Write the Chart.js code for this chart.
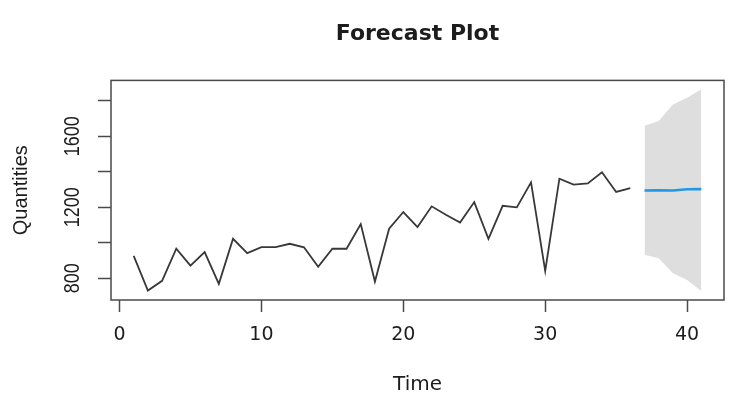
<!DOCTYPE html>
<html>
<head>
<meta charset="utf-8">
<title>Forecast Plot</title>
<script src="https://cdn.jsdelivr.net/npm/chart.js@4/dist/chart.umd.min.js"></script>
<style>
  html, body { margin: 0; padding: 0; background: #ffffff; }
  #wrap { width: 750px; height: 412px; }
</style>
</head>
<body>
<div id="wrap"><canvas id="chart" width="750" height="412"></canvas></div>
<script>
// Observed series
const time = [1, 2, 3, 4, 5, 6, 7, 8, 9, 10, 11, 12, 13, 14, 15, 16, 17, 18,
              19, 20, 21, 22, 23, 24, 25, 26, 27, 28, 29, 30, 31, 32, 33, 34, 35, 36];
const quantities = [926, 730, 785, 966, 871, 947, 768, 1022, 941, 975, 975, 994,
                    974, 864, 966, 966, 1105, 781, 1079, 1173, 1088, 1205, 1158, 1114,
                    1229, 1022, 1208, 1199, 1340, 841, 1361, 1327, 1334, 1397, 1286, 1308];

// Forecast horizon: point forecast and interval bounds
const fcTime  = [37, 38, 39, 40, 41];
const fcMean  = [1294, 1295, 1294, 1301, 1302];
const fcUpper = [1660, 1686, 1779, 1817, 1865];
const fcLower = [932, 913, 828, 790, 728];

// Axis ticks
const xTicks = [0, 10, 20, 30, 40];
const yTicks = [800, 1000, 1200, 1400, 1600, 1800];
const yTickLabels = [800, 1200, 1600];

const pts = (xs, ys) => xs.map((x, i) => ({ x: x, y: ys[i] }));

const axisColor = '#4a4a4a';
const textColor = '#1c1c1c';

// Full box around the plotting region
const boxPlugin = {
  id: 'box',
  afterDatasetsDraw(chart) {
    const { ctx, chartArea: a } = chart;
    ctx.save();
    ctx.strokeStyle = axisColor;
    ctx.lineWidth = 1.5;
    ctx.strokeRect(a.left, a.top, a.right - a.left, a.bottom - a.top);
    ctx.restore();
  }
};

// Y tick labels, written parallel to the axis
const yLabelPlugin = {
  id: 'yLabels',
  afterDraw(chart) {
    const { ctx } = chart;
    const ys = chart.scales.y;
    ctx.save();
    ctx.fillStyle = textColor;
    ctx.font = '18px "Liberation Sans", Arial, sans-serif';
    ctx.textAlign = 'center';
    ctx.textBaseline = 'middle';
    yTickLabels.forEach(v => {
      const py = ys.getPixelForValue(v);
      ctx.save();
      ctx.translate(73, py);
      ctx.scale(1.2, 1);
      ctx.rotate(-Math.PI / 2);
      ctx.fillText(String(v), 0, 0);
      ctx.restore();
    });
    ctx.restore();
  }
};

new Chart(document.getElementById('chart'), {
  type: 'line',
  data: {
    datasets: [
      {
        label: 'upper',
        data: pts(fcTime, fcUpper),
        borderWidth: 0,
        borderColor: 'rgba(0,0,0,0)',
        backgroundColor: '#dedede',
        pointRadius: 0,
        fill: '+1',
        order: 3
      },
      {
        label: 'lower',
        data: pts(fcTime, fcLower),
        borderWidth: 0,
        borderColor: 'rgba(0,0,0,0)',
        pointRadius: 0,
        fill: false,
        order: 3
      },
      {
        label: 'Quantities',
        data: pts(time, quantities),
        borderColor: '#383838',
        borderWidth: 1.8,
        pointRadius: 0,
        tension: 0,
        fill: false,
        order: 2
      },
      {
        label: 'Forecast',
        data: pts(fcTime, fcMean),
        borderColor: '#2297E6',
        borderWidth: 2.6,
        pointRadius: 0,
        tension: 0,
        fill: false,
        order: 1
      }
    ]
  },
  options: {
    responsive: false,
    animation: false,
    devicePixelRatio: 1,
    layout: { padding: { left: 0, right: 26, top: 0, bottom: 0 } },
    plugins: {
      legend: { display: false },
      tooltip: { enabled: false },
      title: {
        display: true,
        text: 'Forecast Plot',
        fullSize: false,
        color: textColor,
        font: { family: '"DejaVu Sans", sans-serif', size: 22, weight: 'bold' },
        padding: { top: 21, bottom: 33 }
      }
    },
    scales: {
      x: {
        type: 'linear',
        min: -0.6,
        max: 42.6,
        afterBuildTicks: s => { s.ticks = xTicks.map(v => ({ value: v })); },
        afterFit: s => { s.height = 112; },
        border: { display: false },
        grid: {
          drawOnChartArea: false,
          drawTicks: true,
          tickLength: 12,
          tickColor: axisColor,
          tickWidth: 1.5
        },
        ticks: {
          autoSkip: false,
          maxRotation: 0,
          color: textColor,
          padding: 12,
          font: { family: '"DejaVu Sans", sans-serif', size: 19 }
        },
        title: {
          display: true,
          text: 'Time',
          color: textColor,
          font: { family: '"DejaVu Sans", sans-serif', size: 20 },
          padding: { top: 0, bottom: 15 }
        }
      },
      y: {
        type: 'linear',
        min: 677,
        max: 1915,
        afterBuildTicks: s => { s.ticks = yTicks.map(v => ({ value: v })); },
        afterFit: s => { s.width = 111; },
        border: { display: false },
        grid: {
          drawOnChartArea: false,
          drawTicks: true,
          tickLength: 13,
          tickColor: axisColor,
          tickWidth: 1.5
        },
        ticks: {
          autoSkip: false,
          callback: () => ''
        },
        title: {
          display: true,
          text: 'Quantities',
          color: textColor,
          font: { family: '"Liberation Sans", Arial, sans-serif', size: 20 },
          padding: { top: 9, bottom: 0 }
        }
      }
    }
  },
  plugins: [boxPlugin, yLabelPlugin]
});
</script>
</body>
</html>
